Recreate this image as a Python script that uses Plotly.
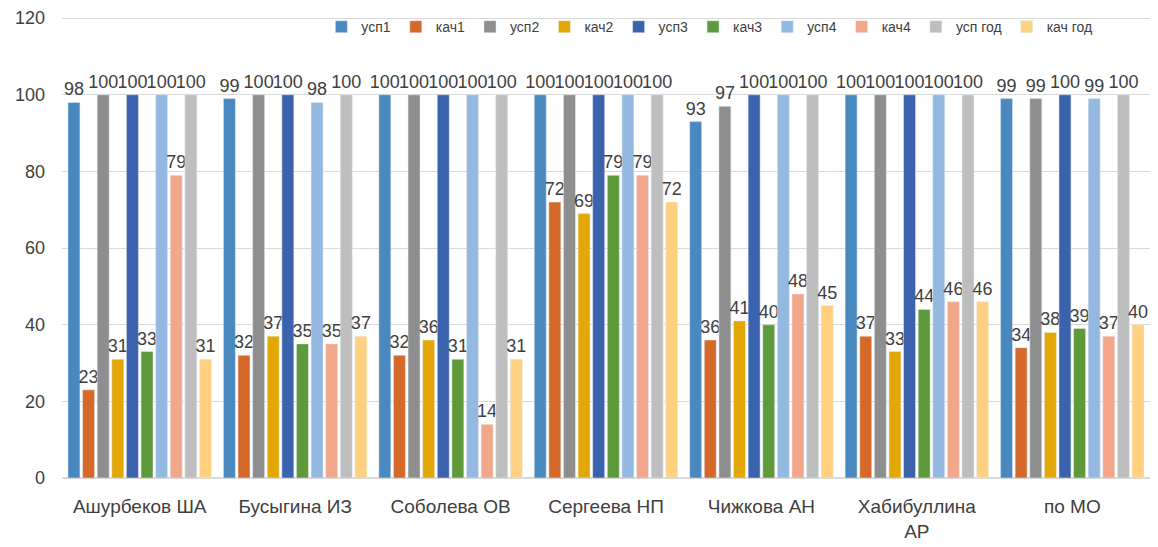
import plotly.graph_objects as go

categories = ["Ашурбеков ША", "Бусыгина ИЗ", "Соболева ОВ", "Сергеева НП", "Чижкова АН", "Хабибуллина<br>АР", "по МО"]
series_names = ["усп1", "кач1", "усп2", "кач2", "усп3", "кач3", "усп4", "кач4", "усп год", "кач год"]

usp1 = [98, 99, 100, 100, 93, 100, 99]
kach1 = [23, 32, 32, 72, 36, 37, 34]
usp2 = [100, 100, 100, 100, 97, 100, 99]
kach2 = [31, 37, 36, 69, 41, 33, 38]
usp3 = [100, 100, 100, 100, 100, 100, 100]
kach3 = [33, 35, 31, 79, 40, 44, 39]
usp4 = [100, 98, 100, 100, 100, 100, 99]
kach4 = [79, 35, 14, 79, 48, 46, 37]
usp_god = [100, 100, 100, 100, 100, 100, 100]
kach_god = [31, 37, 31, 72, 45, 46, 40]

colors = ["#4A89C0", "#D4692A", "#8E8E8E", "#E3A805", "#3A62AD",
          "#5E9A3C", "#94B9E1", "#F2A78B", "#BEBEBE", "#FFD080"]

all_series = [usp1, kach1, usp2, kach2, usp3, kach3, usp4, kach4, usp_god, kach_god]

fig = go.Figure()
for name, vals, col in zip(series_names, all_series, colors):
    fig.add_trace(go.Bar(
        name=name, x=categories, y=vals, marker_color=col,
        text=vals, textposition="outside", cliponaxis=False,
        constraintext="none",
        textfont=dict(size=18, color="#404040"),
    ))

fig.update_layout(
    width=1158, height=547,
    margin=dict(l=62, r=8, t=17, b=69, autoexpand=False),
    plot_bgcolor="white", paper_bgcolor="white",
    font=dict(family="Liberation Sans, Arial, sans-serif", size=15, color="#404040"),
    barmode="group", bargap=0.06, bargroupgap=0.18,
    legend=dict(orientation="h", x=0.595, xanchor="center", y=0.978, yanchor="middle",
                font=dict(size=14), itemwidth=30, tracegroupgap=0,
                bgcolor="rgba(0,0,0,0)"),
    yaxis=dict(range=[0, 120.3], tickvals=[0, 20, 40, 60, 80, 100, 120],
               showgrid=True, gridcolor="#D9D9D9", automargin=False,
               zeroline=True, zerolinecolor="#D9D9D9", ticks="", ticklen=0,
               tickfont=dict(size=18), showline=False, ticklabelstandoff=16,
               ticklabeloverflow="allow"),
    xaxis=dict(showline=False, ticks="", tickfont=dict(size=19), ticklabelstandoff=15,
               automargin=False),
)

fig.write_html("out.html", config={"displayModeBar": False},
               post_script="document.body.style.margin='0';document.body.style.overflow='hidden';")
